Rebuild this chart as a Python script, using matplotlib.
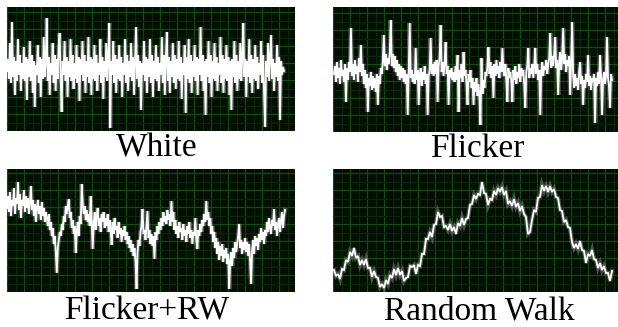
import numpy as np
import matplotlib
matplotlib.use("Agg")
import matplotlib.pyplot as plt
from matplotlib.ticker import MultipleLocator

# Noise traces, heights in pixels above each panel's bottom edge
white = [
    60, 72, 52, 88, 48, 109, 54, 74, 36, 70, 50, 92, 56, 76, 40, 68, 52, 84, 50, 74,
    31, 72, 54, 90, 50, 76, 38, 70, 24, 66, 56, 86, 48, 74, 34, 72, 52, 94, 54, 70,
    113, 50, 74, 36, 68, 56, 88, 48, 76, 40, 72, 52, 84, 98, 54, 19, 70, 56, 90, 50,
    74, 34, 70, 54, 92, 50, 76, 42, 68, 52, 86, 48, 74, 30, 72, 56, 90, 50, 76, 38,
    70, 54, 94, 48, 74, 36, 72, 52, 86, 50, 76, 40, 68, 56, 92, 48, 74, 32, 70, 54,
    88, 50, 74, 108, 3, 70, 56, 90, 48, 76, 38, 72, 52, 86, 50, 74, 34, 68, 56, 92,
    48, 76, 40, 70, 54, 88, 50, 74, 36, 72, 104, 52, 76, 44, 70, 21, 68, 56, 90, 50,
    74, 38, 72, 54, 92, 48, 76, 34, 70, 52, 86, 50, 74, 40, 68, 56, 94, 48, 76, 36,
    72, 99, 50, 74, 38, 70, 54, 88, 48, 76, 42, 72, 52, 90, 50, 74, 32, 68, 56, 86,
    18, 74, 52, 92, 48, 76, 38, 70, 54, 86, 50, 74, 36, 72, 56, 104, 50, 76, 40, 70,
    16, 72, 54, 90, 48, 76, 34, 70, 52, 88, 50, 74, 40, 68, 56, 94, 48, 76, 38, 72,
    52, 86, 50, 74, 36, 70, 21, 72, 54, 90, 48, 76, 40, 70, 52, 88, 50, 74, 108, 54,
    72, 34, 70, 54, 92, 48, 76, 38, 72, 52, 86, 50, 74, 42, 68, 56, 90, 48, 76, 36,
    4, 70, 54, 88, 50, 74, 96, 52, 72, 40, 68, 54, 86, 50, 74, 11, 70, 56, 64, 60,
]
flicker = [
    58, 66, 50, 70, 54, 64, 48, 72, 56, 62, 50, 68, 30, 64, 52, 70, 60, 104, 56, 68,
    52, 72, 58, 66, 50, 74, 60, 87, 56, 68, 48, 62, 44, 58, 20, 54, 46, 60, 42, 56,
    44, 54, 40, 58, 27, 56, 48, 64, 58, 70, 97, 66, 78, 62, 74, 68, 80, 112, 66, 78,
    64, 76, 60, 72, 56, 68, 52, 66, 54, 64, 50, 62, 48, 58, 17, 60, 109, 54, 62, 50,
    58, 48, 84, 52, 62, 27, 56, 64, 46, 60, 52, 66, 48, 58, 17, 56, 62, 94, 58, 68,
    56, 70, 58, 72, 30, 66, 74, 107, 60, 70, 56, 68, 90, 58, 66, 27, 62, 54, 64, 52,
    60, 50, 66, 52, 77, 20, 62, 54, 68, 50, 80, 56, 62, 48, 27, 58, 50, 62, 44, 54,
    27, 50, 40, 54, 36, 48, 34, 7, 74, 38, 52, 44, 60, 56, 66, 85, 58, 70, 54, 66,
    34, 68, 56, 72, 58, 66, 54, 70, 60, 84, 62, 56, 68, 52, 30, 64, 54, 60, 50, 30,
    62, 52, 66, 48, 60, 54, 68, 50, 64, 56, 62, 46, 24, 60, 66, 84, 54, 64, 58, 68,
    54, 66, 84, 58, 68, 52, 62, 17, 60, 70, 56, 66, 62, 72, 58, 68, 74, 99, 64, 76,
    66, 78, 95, 64, 72, 37, 70, 80, 62, 74, 104, 68, 78, 60, 72, 66, 76, 37, 70, 110,
    56, 44, 58, 46, 54, 42, 60, 70, 48, 56, 27, 52, 44, 58, 50, 77, 46, 56, 42, 54,
    50, 58, 9, 54, 46, 60, 48, 77, 56, 17, 52, 60, 48, 56, 95, 54, 46, 24, 58, 52,
]
flicker_rw = [
    84, 96, 80, 100, 76, 92, 86, 104, 78, 94, 88, 110, 82, 98, 74, 92, 86, 102, 80, 96,
    84, 94, 78, 90, 106, 82, 92, 76, 88, 70, 84, 92, 78, 86, 72, 90, 76, 84, 70, 80,
    74, 66, 78, 62, 70, 56, 64, 48, 56, 40, 19, 44, 52, 60, 56, 68, 62, 76, 70, 86,
    78, 86, 93, 74, 80, 64, 72, 58, 66, 39, 60, 70, 56, 76, 68, 108, 88, 78, 86, 72,
    82, 70, 78, 66, 96, 72, 43, 68, 80, 62, 76, 84, 66, 74, 60, 78, 70, 80, 64, 74,
    66, 78, 60, 72, 64, 47, 70, 58, 74, 62, 66, 54, 70, 58, 64, 50, 62, 56, 66, 52,
    60, 48, 56, 44, 52, 40, 48, 36, 44, 30, 3, 40, 52, 46, 60, 66, 83, 58, 62, 52,
    66, 81, 54, 62, 48, 58, 46, 56, 33, 60, 52, 66, 58, 70, 62, 74, 66, 80, 70, 76,
    68, 82, 72, 78, 66, 91, 70, 80, 62, 72, 58, 66, 54, 70, 60, 64, 52, 68, 56, 62,
    50, 66, 58, 70, 54, 62, 48, 60, 56, 74, 52, 43, 62, 56, 68, 60, 72, 66, 78, 70,
    91, 72, 80, 66, 74, 58, 66, 50, 60, 44, 54, 38, 50, 32, 46, 36, 48, 30, 42, 34,
    44, 28, 38, 3, 30, 40, 26, 44, 34, 50, 40, 48, 56, 68, 44, 52, 38, 50, 42, 54,
    40, 50, 36, 48, 30, 8, 42, 52, 38, 56, 46, 54, 42, 58, 50, 64, 52, 60, 48, 62,
    56, 70, 60, 74, 64, 58, 72, 66, 83, 62, 70, 56, 68, 74, 60, 72, 80, 64, 76, 82,
]
random_walk = [
    22, 16, 18, 13, 23, 22, 32, 30, 40, 36,
    44, 34, 36, 27, 32, 27, 33, 24, 24, 15,
    21, 15, 14, 5, 8, 4, 12, 8, 17, 14,
    23, 17, 24, 17, 21, 11, 14, 15, 26, 25,
    27, 18, 27, 26, 38, 38, 53, 53, 60, 55,
    67, 68, 80, 75, 76, 65, 66, 62, 68, 61,
    65, 58, 69, 66, 74, 67, 73, 74, 87, 88,
    97, 93, 98, 97, 110, 99, 98, 87, 93, 92,
    101, 97, 104, 100, 105, 97, 101, 88, 91, 86,
    93, 85, 89, 81, 86, 78, 75, 58, 60, 72,
    82, 80, 94, 95, 107, 101, 106, 100, 106, 100,
    103, 95, 94, 82, 81, 70, 72, 65, 64, 50,
    44, 48, 43, 51, 42, 41, 29, 38, 36, 42,
    33, 32, 24, 29, 22, 26, 19, 19, 11, 21,
]
captions = ["White", "Flicker", "Flicker+RW", "Random Walk"]

W, H = 618, 327
BG = "#020f02"

# panel boxes in pixels: left, top, width, height, trace start/end (x px)
panels = [
    (7, 7, 288, 124, 0, 277),
    (333, 7, 285, 125, 1, 279),
    (7, 169, 288, 123, 0, 278),
    (333, 169, 285, 123, 1, 279),
]
caption_x = [157, 477, 147, 479]
caption_base = [157, 157, 320, 320]
series = [white, flicker, flicker_rw, random_walk]
core_lw = [1.3, 1.3, 1.3, 1.3]
glow_lw = [3.0, 3.2, 3.2, 3.0]

plt.rcParams["font.family"] = ["Liberation Serif", "DejaVu Serif"]
fig = plt.figure(figsize=(W / 100, H / 100), dpi=100)
fig.patch.set_facecolor("white")

for k, ((left, top, pw, ph, x0, x1), ys) in enumerate(zip(panels, series)):
    ax = fig.add_axes([left / W, 1 - (top + ph) / H, pw / W, ph / H])
    ax.set_facecolor(BG)
    ax.set_xlim(0, pw)
    ax.set_ylim(0, ph)
    ax.xaxis.set_major_locator(MultipleLocator(17))
    ax.yaxis.set_major_locator(MultipleLocator(17))
    ax.xaxis.set_minor_locator(MultipleLocator(8.5))
    ax.yaxis.set_minor_locator(MultipleLocator(8.5))
    ax.grid(True, which="major", color="#0f4d0f", lw=0.9)
    ax.grid(True, which="minor", color="#072807", lw=0.8)
    ax.tick_params(which="both", length=0, labelbottom=False, labelleft=False)
    for sp in ax.spines.values():
        sp.set_visible(False)

    xs = np.linspace(x0, x1, len(ys))
    ax.plot(xs, ys, color="#8c8c8c", lw=glow_lw[k], alpha=0.5,
            solid_joinstyle="miter")
    ax.plot(xs, ys, color="white", lw=core_lw[k], solid_joinstyle="miter")

    fig.text(caption_x[k] / W, 1 - caption_base[k] / H, captions[k],
             ha="center", va="baseline", fontsize=24, color="black")

fig.savefig("out.png", dpi=100, facecolor="white")
